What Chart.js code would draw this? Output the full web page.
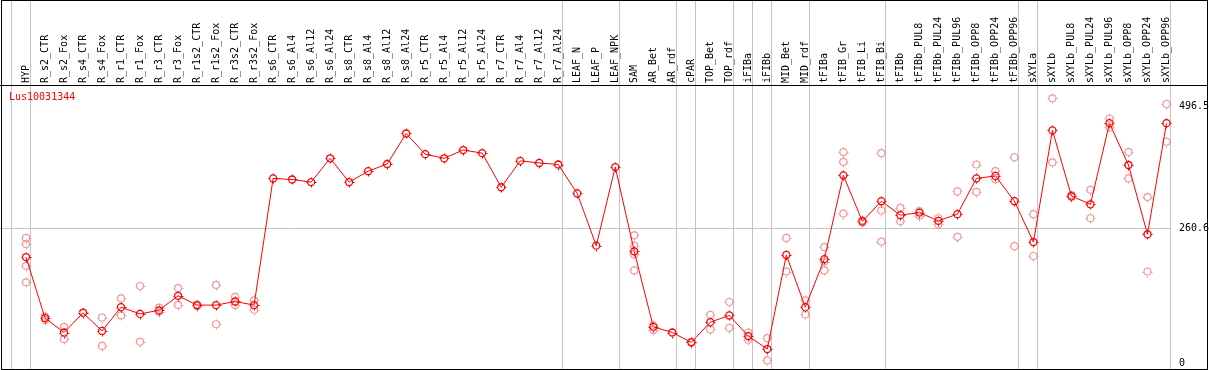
<!DOCTYPE html>
<html>
<head>
<meta charset="utf-8">
<script src="https://cdn.jsdelivr.net/npm/chart.js@4.4.1/dist/chart.umd.min.js"></script>
<style>
  html, body { margin: 0; padding: 0; background: #fff; }
  canvas { display: block; }
</style>
</head>
<body>
<canvas id="chart" width="1209" height="370"></canvas>
<script>
const seriesName = 'Lus10031344';

const categories = ['HYP', 'R_s2_CTR', 'R_s2_Fox', 'R_s4_CTR', 'R_s4_Fox', 'R_r1_CTR', 'R_r1_Fox',
  'R_r3_CTR', 'R_r3_Fox', 'R_r1s2_CTR', 'R_r1s2_Fox', 'R_r3s2_CTR', 'R_r3s2_Fox',
  'R_s6_CTR', 'R_s6_Al4', 'R_s6_Al12', 'R_s6_Al24', 'R_s8_CTR', 'R_s8_Al4', 'R_s8_Al12', 'R_s8_Al24',
  'R_r5_CTR', 'R_r5_Al4', 'R_r5_Al12', 'R_r5_Al24', 'R_r7_CTR', 'R_r7_Al4', 'R_r7_Al12', 'R_r7_Al24',
  'LEAF_N', 'LEAF_P', 'LEAF_NPK', 'SAM', 'AR_Bet', 'AR_rdf', 'cPAR', 'TOP_Bet', 'TOP_rdf',
  'iFIBa', 'iFIBb', 'MID_Bet', 'MID_rdf', 'tFIBa', 'tFIB_Gr', 'tFIB_Li', 'tFIB_Bi',
  'tFIBb', 'tFIBb_PUL8', 'tFIBb_PUL24', 'tFIBb_PUL96', 'tFIBb_OPP8', 'tFIBb_OPP24', 'tFIBb_OPP96',
  'sXYLa', 'sXYLb', 'sXYLb_PUL8', 'sXYLb_PUL24', 'sXYLb_PUL96', 'sXYLb_OPP8', 'sXYLb_OPP24', 'sXYLb_OPP96'];

// mean expression per sample
const means = [205, 87, 59, 97, 62, 108, 95, 102, 130, 112, 112, 119, 112,
  357, 355, 350, 396, 350, 371, 385, 444, 404, 396, 412, 406, 340, 391, 387, 384,
  328, 227, 379, 216, 70, 59, 40, 79, 92, 52, 27, 209, 108, 201, 363, 274, 313,
  286, 291, 275, 288, 357, 362, 313, 234, 450, 323, 307, 464, 383, 249, 464];

// single replicates per sample (pale circles)
const replicates = [
  [242, 230, 188, 156], [90, 83], [70, 46], [98], [88, 33], [125, 92], [149, 41],
  [107, 99], [145, 112], [113, 110], [151, 75], [128, 112], [121, 103],
  [], [], [], [], [], [], [], [], [], [], [], [], [], [], [], [],
  [], [], [], [247, 227, 210, 179], [73, 64], [], [41, 39], [93, 65], [118, 68],
  [59, 45], [48, 5], [242, 177], [121, 94], [224, 196, 179], [408, 389, 289], [276, 272], [406, 295, 235],
  [300, 274], [294, 285], [280, 268], [332, 244], [384, 331], [371, 355], [398, 226],
  [288, 207], [512, 388], [325, 321], [335, 280], [473, 456], [408, 357], [321, 177], [501, 428]];

const yTicks = [0, 260.6, 496.5];
const gridValue = 260.6;
// group separators sit right after these sample indexes
const sepAfter = [-1, 0, 28, 31, 34, 35, 37, 38, 39, 41, 45, 52, 53, 60];

const monoFont = { family: 'DejaVu Sans Mono', size: 10 };

const repPoints = [];
replicates.forEach((reps, i) => {
  reps.forEach(v => repPoints.push({ x: categories[i], y: v }));
});

const framePlugin = {
  id: 'framePlugin',
  beforeDraw(chart) {
    const ctx = chart.ctx;
    ctx.save();
    ctx.fillStyle = '#fff';
    ctx.fillRect(0, 0, chart.width, chart.height);
    ctx.restore();
  },
  beforeDatasetsDraw(chart) {
    const { ctx, scales: { x, y } } = chart;
    ctx.save();
    ctx.strokeStyle = '#c4c4c4';
    ctx.lineWidth = 1;
    let lastSep = 0;
    sepAfter.forEach(i => {
      const px = Math.round(x.getPixelForValue(i) + 4) + 0.5;
      lastSep = px;
      ctx.beginPath();
      ctx.moveTo(px, 0);
      ctx.lineTo(px, chart.height);
      ctx.stroke();
    });
    const gy = Math.round(y.getPixelForValue(gridValue)) + 0.5;
    ctx.beginPath();
    ctx.moveTo(0, gy);
    ctx.lineTo(lastSep, gy);
    ctx.stroke();
    ctx.restore();
  },
  afterDatasetsDraw(chart) {
    // small ticks round each marker, like the original plot symbol
    const { ctx } = chart;
    ctx.save();
    ctx.lineWidth = 1;
    [[1, '#f09a9a'], [0, '#ff0000']].forEach(([di, color]) => {
      ctx.strokeStyle = color;
      chart.getDatasetMeta(di).data.forEach(pt => {
        const cx = Math.round(pt.x) + 0.5, cy = Math.round(pt.y) + 0.5;
        ctx.beginPath();
        ctx.moveTo(cx, cy - 5); ctx.lineTo(cx, cy - 3.5);
        ctx.moveTo(cx, cy + 3.5); ctx.lineTo(cx, cy + 5);
        ctx.moveTo(cx - 5, cy); ctx.lineTo(cx - 3.5, cy);
        ctx.moveTo(cx + 3.5, cy); ctx.lineTo(cx + 5, cy);
        ctx.stroke();
      });
    });
    ctx.restore();
  },
  afterDraw(chart) {
    const { ctx, scales: { x } } = chart;
    ctx.save();
    ctx.strokeStyle = '#000';
    ctx.lineWidth = 1;
    ctx.strokeRect(1.5, 0.5, 1206, 369);
    const hy = Math.round(x.bottom) + 0.5;
    ctx.beginPath();
    ctx.moveTo(0, hy);
    ctx.lineTo(1208, hy);
    ctx.stroke();
    ctx.fillStyle = '#ff0000';
    ctx.font = '10px "DejaVu Sans Mono"';
    ctx.textBaseline = 'middle';
    ctx.fillText(seriesName, 9, 97);
    ctx.restore();
  }
};

new Chart(document.getElementById('chart'), {
  type: 'line',
  data: {
    labels: categories,
    datasets: [{
      label: seriesName,
      data: means,
      borderColor: '#ff0000',
      borderWidth: 1,
      pointStyle: 'circle',
      pointRadius: 3.5,
      pointBorderWidth: 1.3,
      pointBorderColor: '#ff0000',
      pointBackgroundColor: 'rgba(0,0,0,0)',
      tension: 0,
      clip: false,
      order: 0
    }, {
      label: 'replicates',
      data: repPoints,
      showLine: false,
      pointStyle: 'circle',
      pointRadius: 3.5,
      pointBorderWidth: 1.2,
      pointBorderColor: '#f09a9a',
      pointBackgroundColor: 'rgba(0,0,0,0)',
      clip: false,
      order: 1
    }]
  },
  options: {
    responsive: false,
    animation: false,
    layout: { autoPadding: false, padding: { left: 16.5, right: 0, top: 0, bottom: 1 } },
    plugins: {
      legend: { display: false },
      tooltip: { enabled: false }
    },
    scales: {
      x: {
        type: 'category',
        position: 'top',
        offset: true,
        grid: { display: false, drawTicks: false },
        border: { display: false },
        ticks: {
          autoSkip: false,
          maxRotation: 90,
          minRotation: 90,
          padding: 2,
          labelOffset: 12,
          color: '#000',
          font: monoFont
        },
        afterFit(scale) {
          scale.height = 85;
          scale.paddingLeft = 0;
          scale.paddingRight = 0;
        }
      },
      y: {
        position: 'right',
        min: -11.6,
        max: 537.8,
        grid: { display: false, drawTicks: false },
        border: { display: false },
        ticks: {
          padding: 3,
          color: '#000',
          // tiny line height so the end labels do not shrink the plot area
          font: { family: 'DejaVu Sans Mono', size: 10, lineHeight: 0.1 },
          callback: v => String(v)
        },
        afterBuildTicks(scale) {
          scale.ticks = yTicks.map(v => ({ value: v }));
        },
        afterFit(scale) {
          scale.width = 33;
          scale.paddingTop = 0;
          scale.paddingBottom = 0;
        }
      }
    }
  },
  plugins: [framePlugin]
});
</script>
</body>
</html>
